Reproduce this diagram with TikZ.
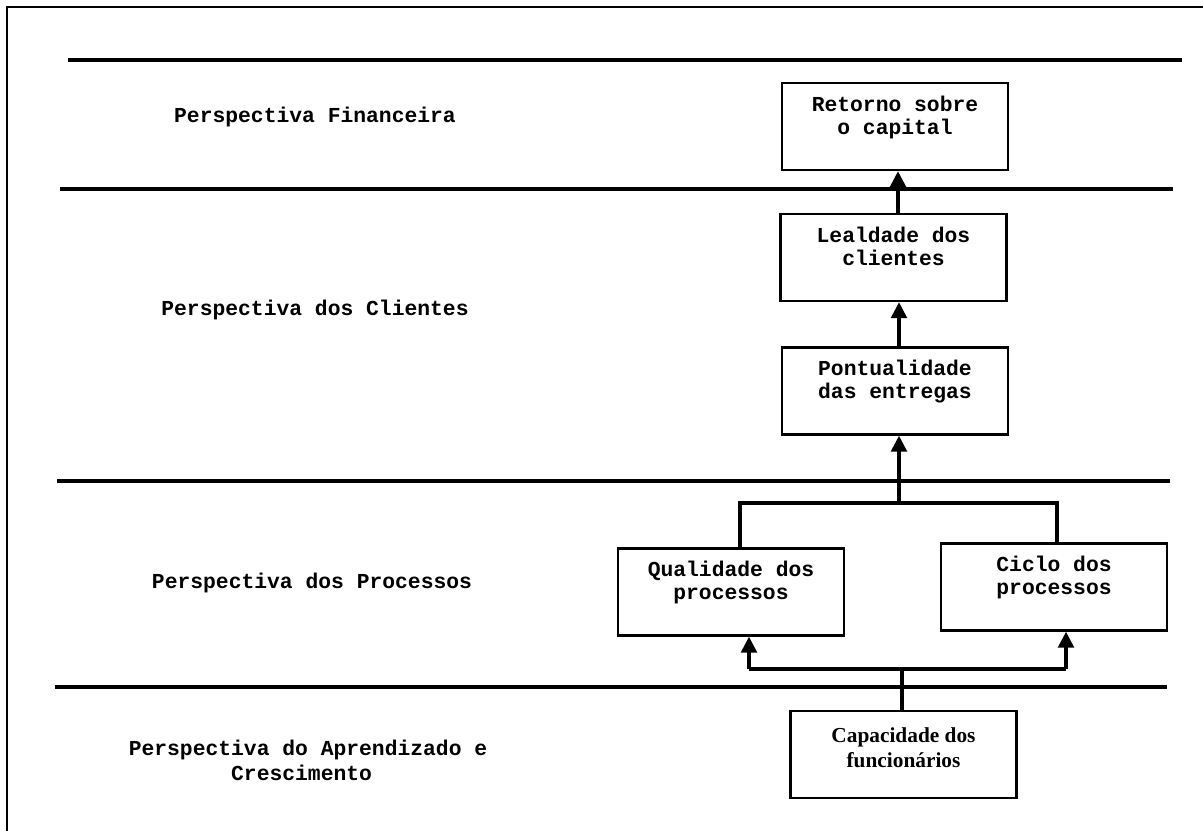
\documentclass[tikz,border=0pt]{standalone}
\usepackage{fontspec}
\setmainfont{Liberation Serif}
\setmonofont{Liberation Mono}
\usetikzlibrary{arrows.meta}
\begin{document}
\begin{tikzpicture}[x=0.75pt,y=-0.75pt,
  frame/.style={line width=1.6pt},
  rule/.style={line width=2.5pt},
  box/.style={draw,line width=1.6pt,minimum width=169.5pt,minimum height=65.25pt,
    inner sep=0pt,align=center,font=\ttfamily\bfseries\fontsize{16}{17.25}\selectfont},
  serifbox/.style={box,font=\bfseries\fontsize{16}{18.75}\selectfont},
  persp/.style={align=center,inner sep=0pt,font=\ttfamily\bfseries\fontsize{16}{18.75}\selectfont},
  link/.style={line width=3.4pt},
  arr/.style={link,-{Triangle[length=12pt,width=11.5pt]}}]
\useasboundingbox (0,0) rectangle (1203,831);

% outer frame (top and left edges)
\draw[frame] (7,831) -- (7,7) -- (1203,7);

% separators between the perspectives
\draw[rule] (68,60) -- (1182,60);
\draw[rule] (60,189) -- (1173,189);
\draw[rule] (57,481) -- (1170,481);
\draw[rule] (55,687) -- (1167,687);

% perspective titles
\node[persp] (pfin) at (315,117) {Perspectiva Financeira};
\node[persp] (pcli) at (315,310) {Perspectiva dos Clientes};
\node[persp] (ppro) at (312,583) {Perspectiva dos Processos};
\node[persp] (papr) at (308,760) {Perspectiva do Aprendizado e\\Crescimento\hphantom{x}};

% objectives
\node[box] (ret) at (895,126.5) {Retorno sobre\\o capital\\~};
\node[box] (lea) at (893.5,257.5) {Lealdade dos\\clientes\\~};
\node[box] (pon) at (895,391) {Pontualidade\\das entregas\\~};
\node[box] (qual) at (731,592) {Qualidade dos\\processos\\~};
\node[box] (cic) at (1054,587) {Ciclo dos\\processos\\~};
\node[serifbox] (cap) at (903.5,754.5) {Capacidade dos\\funcionários\\[-8pt]~};

% cause-and-effect links
\coordinate (ra) at (898,0);
\coordinate (pa) at (899,0);
\draw[arr] (ra |- lea.north) -- (ra |- ret.south);
\draw[arr] (pa |- pon.north) -- (pa |- lea.south);

\coordinate (qt) at (740,503);
\coordinate (ct) at (1057,503);
\coordinate (jt) at (899,503);
\draw[link] (qt |- qual.north) -- (qt) -- (ct) -- (ct |- cic.north);
\draw[arr] (jt) -- (jt |- pon.south);

\coordinate (jb) at (902,669);
\coordinate (qb) at (749,669);
\coordinate (cb) at (1066,669);
\draw[link] (jb |- cap.north) -- (jb);
\draw[link] (qb) -- (cb);
\draw[arr] (qb) -- (qb |- qual.south);
\draw[arr] (cb) -- (cb |- cic.south);
\end{tikzpicture}
\end{document}
